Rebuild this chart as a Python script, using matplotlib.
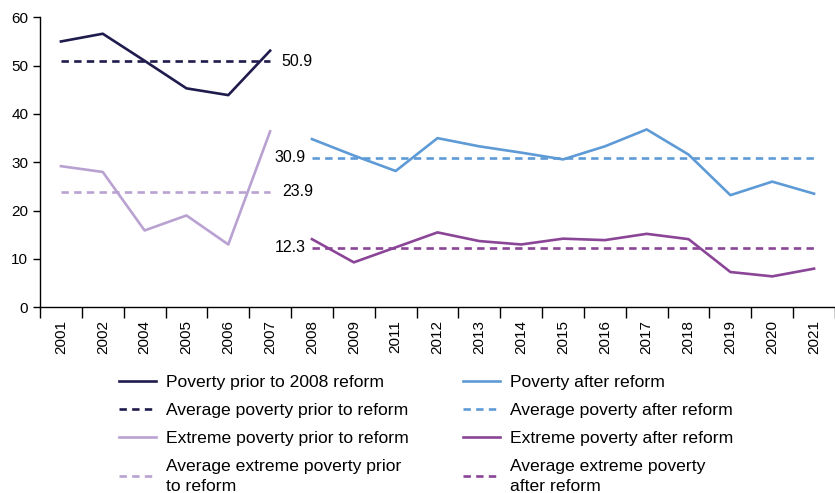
import matplotlib
matplotlib.use("Agg")
import matplotlib.pyplot as plt
import numpy as np

plt.rcParams['font.family'] = ['Liberation Sans', 'DejaVu Sans']

years = ["2001", "2002", "2004", "2005", "2006", "2007", "2008", "2009", "2011", "2012",
         "2013", "2014", "2015", "2016", "2017", "2018", "2019", "2020", "2021"]
years_prior = years[:6]
years_after = years[6:]

poverty_prior = [55.0, 56.6, 51.0, 45.3, 43.9, 53.1]
extreme_prior = [29.2, 28.0, 15.9, 19.0, 13.0, 36.4]
poverty_after = [34.8, 31.4, 28.2, 35.0, 33.3, 32.0, 30.6, 33.3, 36.8, 31.6, 23.2, 26.0, 23.5]
extreme_after = [14.1, 9.3, 12.4, 15.5, 13.7, 13.0, 14.2, 13.9, 15.2, 14.1, 7.3, 6.4, 8.0]
avg_poverty_prior = 50.9
avg_extreme_prior = 23.9
avg_poverty_after = 30.9
avg_extreme_after = 12.3

c_pov_prior = "#1f1c4d"
c_ext_prior = "#b9a2d2"
c_pov_after = "#5e9bd6"
c_ext_after = "#8a4597"

fig = plt.figure(figsize=(8.35, 4.93), dpi=100)
ax = fig.add_axes([40/835, 1 - 307.3/493, 1 - 40/835, (307.3 - 17.3)/493])

xp = np.arange(len(years_prior))
xa = np.arange(len(years_prior), len(years))
lw = 1.9
dash = (0, (2.8, 2.0))

h1 = ax.plot(xp, poverty_prior, color=c_pov_prior, lw=lw, label="Poverty prior to 2008 reform")
h2 = ax.plot(xp, [avg_poverty_prior]*len(xp), color=c_pov_prior, lw=lw, ls=dash,
             label="Average poverty prior to reform")
h3 = ax.plot(xp, extreme_prior, color=c_ext_prior, lw=lw, label="Extreme poverty prior to reform")
h4 = ax.plot(xp, [avg_extreme_prior]*len(xp), color=c_ext_prior, lw=lw, ls=dash,
             label="Average extreme poverty prior\nto reform")
h5 = ax.plot(xa, poverty_after, color=c_pov_after, lw=lw, label="Poverty after reform")
h6 = ax.plot(xa, [avg_poverty_after]*len(xa), color=c_pov_after, lw=lw, ls=dash,
             label="Average poverty after reform")
h7 = ax.plot(xa, extreme_after, color=c_ext_after, lw=lw, label="Extreme poverty after reform")
h8 = ax.plot(xa, [avg_extreme_after]*len(xa), color=c_ext_after, lw=lw, ls=dash,
             label="Average extreme poverty\nafter reform")

fs = 11
ax.text(xp[-1] + 0.28, avg_poverty_prior, f"{avg_poverty_prior}", ha="left", va="center", fontsize=11.5)
ax.text(xp[-1] + 0.28, avg_extreme_prior, f"{avg_extreme_prior}", ha="left", va="center", fontsize=11.5)
ax.text(xa[0] - 0.15, avg_poverty_after, f"{avg_poverty_after}", ha="right", va="center", fontsize=11.5)
ax.text(xa[0] - 0.15, avg_extreme_after, f"{avg_extreme_after}", ha="right", va="center", fontsize=11.5)

ax.set_xlim(-0.5, len(years) - 0.6)
ax.set_ylim(0, 60)
ax.set_yticks(range(0, 61, 10))
ax.tick_params(axis="y", labelsize=fs, length=5, width=1, direction="out")
ax.set_xticks(np.arange(len(years)))
ax.set_xticklabels(years, rotation=90, fontsize=fs)
ax.set_xticks(np.arange(len(years) + 1) - 0.5, minor=True)
ax.tick_params(axis="x", which="major", length=0, pad=9)
ax.tick_params(axis="x", which="minor", length=8, width=1, direction="out")
for s in ["top", "right"]:
    ax.spines[s].set_visible(False)
ax.spines["left"].set_linewidth(1)
ax.spines["bottom"].set_linewidth(1)

leg_kw = dict(loc="upper left", frameon=False, fontsize=12.6, handlelength=2.1,
              handletextpad=0.6, labelspacing=0.72, borderpad=0, borderaxespad=0)
hs1 = h1 + h2 + h3 + h4
hs2 = h5 + h6 + h7 + h8
leg1 = fig.legend(handles=hs1, labels=[h.get_label() for h in hs1],
                  bbox_to_anchor=(119/835, 1 - 375/493), **leg_kw)
leg2 = fig.legend(handles=hs2, labels=[h.get_label() for h in hs2],
                  bbox_to_anchor=(463/835, 1 - 375/493), **leg_kw)
for lg in (leg1, leg2):
    for t in lg.get_texts():
        t.set_linespacing(1.45)

fig.savefig("out.png", dpi=100)
